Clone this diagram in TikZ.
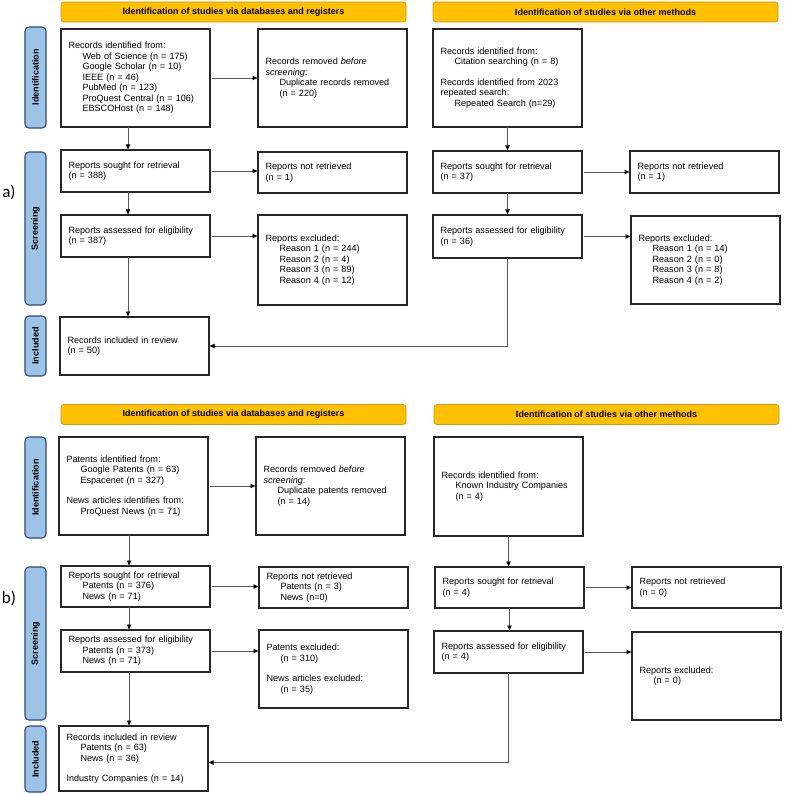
\documentclass[tikz,border=0pt]{standalone}
\usepackage{fontspec}
\setmainfont{Liberation Sans}
\newfontfamily\labfont{Carlito}
\usetikzlibrary{arrows.meta,calc}
\definecolor{hdrfill}{HTML}{FFC000}
\definecolor{hdrdraw}{HTML}{C99A1C}
\definecolor{sidefill}{HTML}{9DC3E6}
\definecolor{sidedraw}{HTML}{2E4A78}
\definecolor{boxdraw}{HTML}{262626}
\definecolor{linecol}{HTML}{555555}
\newcommand{\ind}{\hspace*{14pt}}
\begin{document}
\begin{tikzpicture}[x=1pt,y=-1pt,
  every node/.style={font=\fontsize{9.1}{10.5}\selectfont},
  box/.style={draw=boxdraw, line width=1.2pt, anchor=north west, align=left,
    text width=134pt, inner xsep=7.5pt, inner ysep=2pt, minimum width=149pt, outer sep=0pt},
  hdr/.style={draw=hdrdraw, fill=hdrfill, line width=0.8pt, rounded corners=3pt,
    minimum width=345pt, minimum height=20pt, inner sep=0pt,
    font=\fontsize{9}{10.5}\selectfont\bfseries},
  side/.style={draw=sidedraw, fill=sidefill, line width=1.1pt, rounded corners=4pt,
    rotate=90, minimum height=21pt, inner sep=0pt,
    font=\fontsize{9}{10.5}\selectfont\bfseries},
  arr/.style={draw=linecol, line width=0.9pt, -{Latex[length=5.5pt,width=5pt,color=black]}},
  lab/.style={font=\labfont\fontsize{17}{20}\selectfont}
]
\useasboundingbox (0,0) rectangle (784,794);
\fill[white] (0,0) rectangle (784,794);

% ---------------- a) ----------------
\node[lab] (la) at (9,192) {a)};
\node[hdr] (ha1) at (233.5,12) {Identification of studies via databases and registers};
\node[hdr] (ha2) at (605.5,12) {Identification of studies via other methods};

\node[side, minimum width=101pt] (sa1) at (35.5,77.5) {Identification};
\node[side, minimum width=153pt] (sa2) at (35.5,228.5) {Screening};
\node[side, minimum width=60pt] (sa3) at (35.5,346) {Included};

\node[box, minimum height=98pt] (a1) at (61,29) {Records identified from:\\
\ind Web of Science (n = 175)\\
\ind Google Scholar (n = 10)\\
\ind IEEE (n = 46)\\
\ind PubMed (n = 123)\\
\ind ProQuest Central (n = 106)\\
\ind EBSCOHost (n = 148)};
\node[box, minimum height=98pt] (a2) at (258,29) {Records removed \textit{before}\\
\textit{screening}:\\
\ind Duplicate records removed\\
\ind (n = 220)};
\node[box, minimum height=42pt] (a3) at (61,150) {Reports sought for retrieval\\(n = 388)};
\node[box, minimum height=41pt] (a4) at (258,152) {Reports not retrieved\\(n = 1)};
\node[box, minimum height=42pt] (a5) at (61,215) {Reports assessed for eligibility\\(n = 387)};
\node[box, minimum height=90pt] (a6) at (258,215) {Reports excluded:\\
\ind Reason 1 (n = 244)\\
\ind Reason 2 (n = 4)\\
\ind Reason 3 (n = 89)\\
\ind Reason 4 (n = 12)};
\node[box, minimum height=58pt] (a7) at (60,317) {Records included in review\\(n = 50)};

\node[box, minimum height=98pt] (r1) at (433,29) {Records identified from:\\
\ind Citation searching (n = 8)\\[10pt]
Records identified from 2023\\
repeated search:\\
\ind Repeated Search (n=29)};
\node[box, minimum height=42pt] (r3) at (433,151) {Reports sought for retrieval\\(n = 37)};
\node[box, minimum height=42pt] (r4) at (630,151) {Reports not retrieved\\(n = 1)};
\node[box, minimum height=43pt] (r5) at (433,215) {Reports assessed for eligibility\\(n = 36)};
\node[box, minimum height=88pt] (r6) at (631,216) {Reports excluded:\\
\ind Reason 1 (n = 14)\\
\ind Reason 2 (n = 0)\\
\ind Reason 3 (n = 8)\\
\ind Reason 4 (n = 2)};

\coordinate (xa) at (128,0);
\draw[arr] (a1.east) ++(2,0) -- (a2.west |- a1.east);
\draw[arr] (a1.south -| xa) -- (a3.north -| xa);
\draw[arr] (a3.east) ++(2,0) -- (a4.west |- a3.east);
\draw[arr] (a3.south -| xa) -- (a5.north -| xa);
\draw[arr] (a5.east) ++(2,0) -- (a6.west |- a5.east);
\draw[arr] (a5.south -| xa) -- (a7.north -| xa);
\draw[arr] (r1.south) -- (r3.north -| r1.south);
\draw[arr] (r3.east) ++(2,0) -- (r4.west |- r3.east);
\draw[arr] (r3.south) -- (r5.north -| r3.south);
\draw[arr] (r5.east) ++(2,0) -- (r6.west |- r5.east);
\draw[arr] (r5.south) -- (r5.south |- a7.east) -- (a7.east);

% ---------------- b) ----------------
\node[lab] (lb) at (9,598) {b)};
\node[hdr] (hb1) at (233.5,414.5) {Identification of studies via databases and registers};
\node[hdr] (hb2) at (606.5,414.5) {Identification of studies via other methods};

\node[side, minimum width=101pt] (sb1) at (35.5,487.5) {Identification};
\node[side, minimum width=153pt] (sb2) at (35.5,643.5) {Screening};
\node[side, minimum width=66pt] (sb3) at (35.5,759) {Included};

\node[box, minimum height=98pt] (b1) at (59,437) {Patents identified from:\\
\ind Google Patents (n = 63)\\
\ind Espacenet (n = 327)\\[10pt]
News articles identifies from:\\
\ind ProQuest News (n = 71)};
\node[box, minimum height=98pt] (b2) at (256,437) {Records removed \textit{before}\\
\textit{screening}:\\
\ind Duplicate patents removed\\
\ind (n = 14)};
\node[box, minimum height=41pt] (b3) at (61,566) {Reports sought for retrieval\\
\ind Patents (n = 376)\\
\ind News (n = 71)};
\node[box, minimum height=41pt] (b4) at (259,567) {Reports not retrieved\\
\ind Patents (n = 3)\\
\ind News (n=0)};
\node[box, minimum height=42pt] (b5) at (61,630) {Reports assessed for eligibility\\
\ind Patents (n = 373)\\
\ind News (n = 71)};
\node[box, minimum height=78pt] (b6) at (259,630) {Patents excluded:\\
\ind (n = 310)\\[10pt]
News articles excluded:\\
\ind (n = 35)};
\node[box, minimum height=65pt] (b7) at (59,726) {Records included in review\\
\ind Patents (n = 63)\\
\ind News (n = 36)\\[10pt]
Industry Companies (n = 14)};

\node[box, minimum height=99pt] (c1) at (434,437) {Records identified from:\\
\ind Known Industry Companies\\
\ind (n = 4)};
\node[box, minimum height=41pt] (c3) at (435,567) {Reports sought for retrieval\\(n = 4)};
\node[box, minimum height=41pt] (c4) at (632,567) {Reports not retrieved\\(n = 0)};
\node[box, minimum height=42pt] (c5) at (434,631) {Reports assessed for eligibility\\(n = 4)};
\node[box, minimum height=88pt] (c6) at (632,632) {Reports excluded:\\
\ind (n = 0)};

\coordinate (xb) at (129,0);
\draw[arr] (b1.east) ++(2,0) -- (b2.west |- b1.east);
\draw[arr] (b1.south -| xb) -- (b3.north -| xb);
\draw[arr] (b3.east) ++(2,0) -- (b4.west |- b3.east);
\draw[arr] (b3.south -| xb) -- (b5.north -| xb);
\draw[arr] (b5.east) ++(2,0) -- (b6.west |- b5.east);
\draw[arr] (b5.south -| xb) -- (b7.north -| xb);
\draw[arr] (c1.south) -- (c3.north -| c1.south);
\draw[arr] (c3.east) ++(2,0) -- (c4.west |- c3.east);
\draw[arr] (c3.south) -- (c5.north -| c3.south);
\draw[arr] (c5.east) ++(2,0) -- (c6.west |- c5.east);
\draw[arr] (c5.south) -- ([yshift=-4pt]c5.south |- b7.east) -- ([yshift=-4pt]b7.east);
\end{tikzpicture}
\end{document}
